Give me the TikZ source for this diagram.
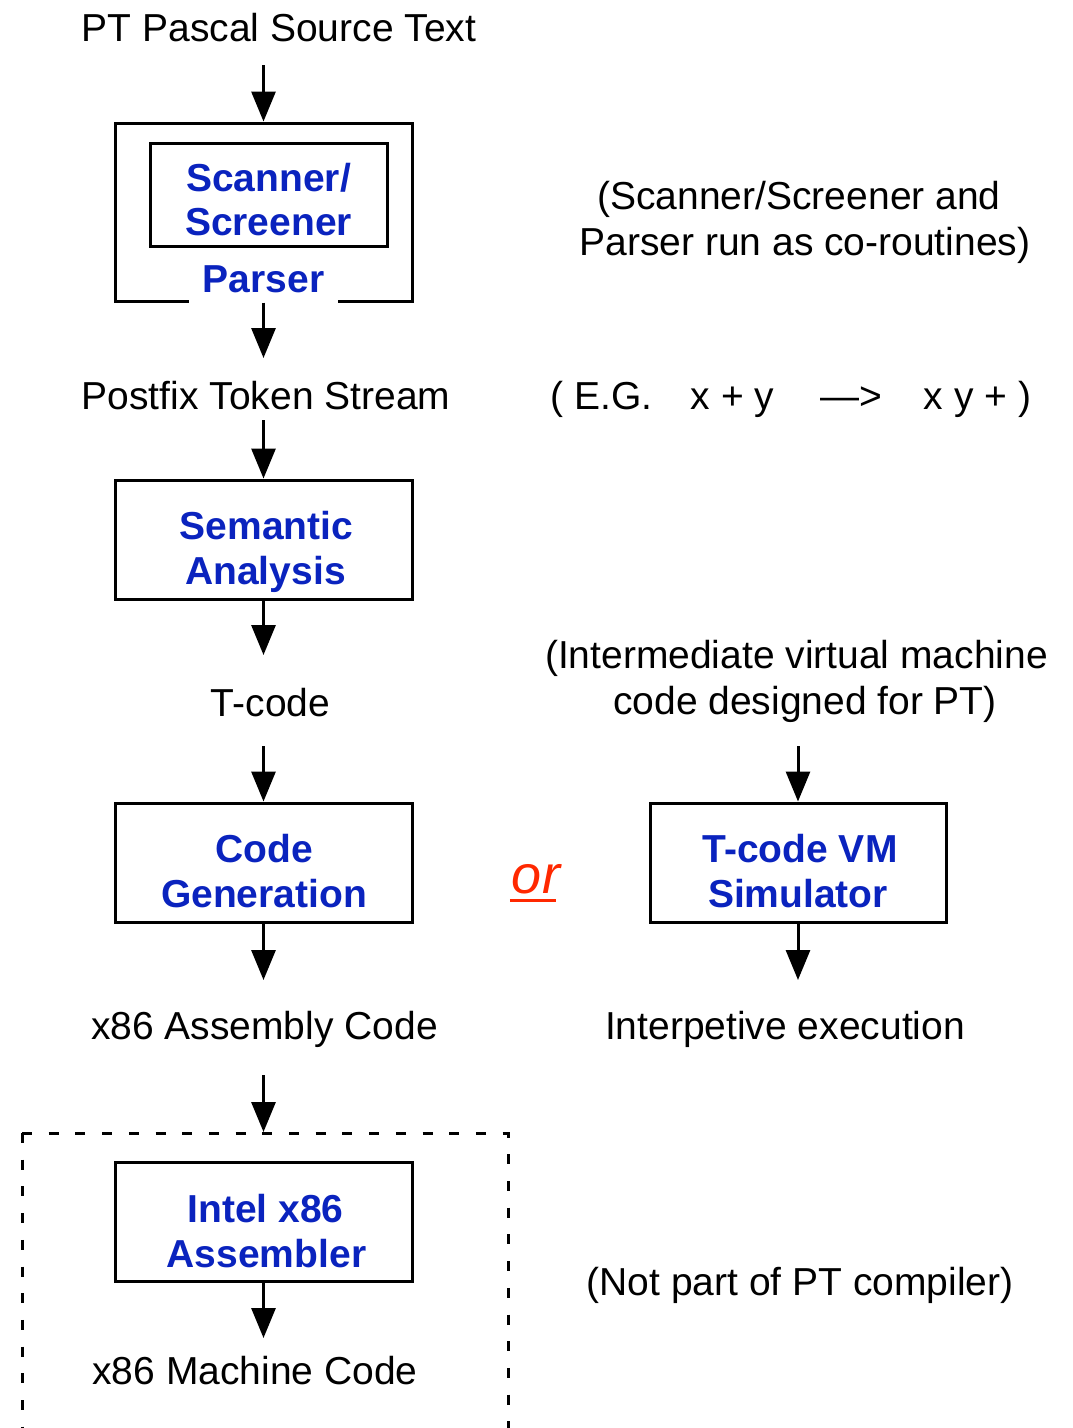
\documentclass[tikz,border=0pt]{standalone}
\usepackage{fontspec}
\setmainfont{Liberation Sans}
\usetikzlibrary{arrows.meta}
\definecolor{lblue}{RGB}{10,35,190}
\definecolor{lred}{RGB}{255,40,0}
\begin{document}
\begin{tikzpicture}[x=1pt,y=-1pt,
  txt/.style={font=\fontsize{39}{46}\selectfont, inner sep=0pt, anchor=base},
  btxt/.style={font=\fontsize{39}{46}\selectfont\bfseries, text=lblue, inner sep=0pt, anchor=base},
  box/.style={draw, line width=3pt, inner sep=0pt, minimum width=297pt, minimum height=119pt},
  arr/.style={line width=3pt, -{Triangle[length=30pt,width=24pt]}},
  dashedline/.style={line width=3pt, dash pattern=on 10pt off 16.7pt}
]
\useasboundingbox (0,0) rectangle (1072,1428);

% left column
\node[txt] (src) at (279,41) {PT Pascal Source Text};
\node[box, minimum height=178pt] (outer) at (263.5,212) {};
\node[box, minimum width=237pt, minimum height=103pt] (inner) at (268.5,194.5) {};
\node[btxt] (scan1) at (268.5,191) {Scanner/};
\node[btxt] (scan2) at (268.5,235) {Screener};
\node[btxt, fill=white, inner xsep=14pt, inner ysep=12pt] (parser) at (263.5,292) {Parser};

\node[txt] (postfix) at (266,409) {Postfix Token Stream};
\node[box] (sem) at (263.5,539.5) {};
\node[btxt] (sem1) at (266.5,539) {Semantic};
\node[btxt] (sem2) at (265.5,584) {Analysis};

\node[txt] (tcode) at (270.5,716) {T-code};
\node[box] (cg) at (263.5,862.5) {};
\node[btxt] (cg1) at (264,862) {Code};
\node[btxt] (cg2) at (264,907) {Generation};

\node[txt] (asmcode) at (264.5,1039) {x86 Assembly Code};

\draw[dashedline] (22,1133) -- (22,1440);
\draw[dashedline] (22,1133) -- (508,1133) -- (508,1440);
\coordinate (dtop) at (263.5,1132);

\node[box] (asm) at (263.5,1222) {};
\node[btxt] (asm1) at (265.5,1222) {Intel x86};
\node[btxt] (asm2) at (266.5,1267) {Assembler};
\node[txt] (mcode) at (255,1384) {x86 Machine Code};

% right column
\node[txt] (note1a) at (799,209) {(Scanner/Screener and};
\node[txt] (note1b) at (805,255) {Parser run as co-routines)};
\node[txt] (eg) at (791,409) {( E.G.\hspace{38pt}x + y\hspace{46pt}—>\hspace{42pt}x y + )};
\node[txt] (note2a) at (796.5,668) {(Intermediate virtual machine};
\node[txt] (note2b) at (805,714) {code designed for PT)};
\node[box, minimum width=296pt] (vm) at (798,862.5) {};
\node[btxt] (vm1) at (800,862) {T-code VM};
\node[btxt] (vm2) at (798,907) {Simulator};
\node[txt, text=lred, font=\fontsize{54}{60}\selectfont\itshape] (or) at (536,893) {or};
\draw[lred, line width=3pt] ([xshift=-2pt,yshift=-7pt]or.base west) -- ([xshift=-4pt,yshift=-7pt]or.base east);
\node[txt] (interp) at (785,1039) {Interpetive execution};
\node[txt] (notpart) at (800,1295) {(Not part of PT compiler)};

% arrows
\coordinate (s1) at (263.5,65);
\coordinate (e2) at (263.5,358);
\coordinate (s3) at (263.5,420);
\coordinate (e4) at (263.5,655);
\coordinate (s5) at (263.5,746);
\coordinate (e6) at (263.5,980);
\coordinate (s7) at (263.5,1075);
\coordinate (e8) at (263.5,1338);
\coordinate (s9) at (798,746);
\coordinate (e10) at (798,980);

\draw[arr] (s1) -- (outer.north);
\draw[arr] (outer.south) -- (e2);
\draw[arr] (s3) -- (sem.north);
\draw[arr] (sem.south) -- (e4);
\draw[arr] (s5) -- (cg.north);
\draw[arr] (cg.south) -- (e6);
\draw[arr] (s7) -- (dtop);
\draw[arr] (asm.south) -- (e8);
\draw[arr] (s9) -- (vm.north);
\draw[arr] (vm.south) -- (e10);
\end{tikzpicture}
\end{document}
